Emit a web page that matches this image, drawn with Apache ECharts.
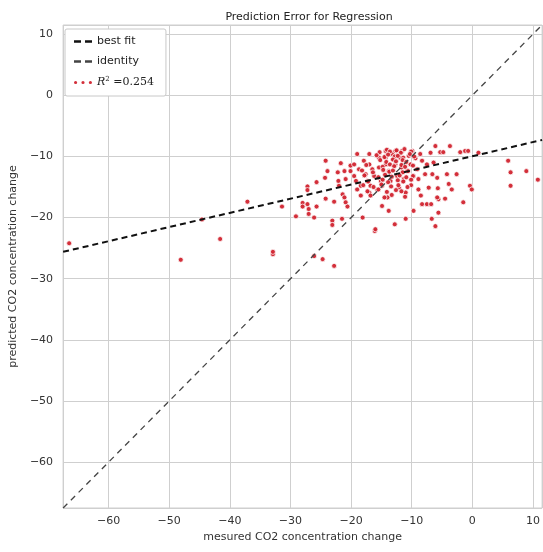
<!DOCTYPE html>
<html>
<head>
<meta charset="utf-8">
<script src="https://cdn.jsdelivr.net/npm/echarts@6/dist/echarts.min.js"></script>
<style>
  html, body { margin: 0; padding: 0; background: #fff; }
  #chart { width: 543px; height: 552px; }
</style>
</head>
<body>
<div id="chart"></div>
<script>
const measured = [
  -66.5, -48.1, -44.6, -41.6, -37.1, -32.9, -32.9, -26.1, -24.7, -22.8,
  -31.4, -29.1, -28.0, -28.0, -27.2, -27.0, -27.0, -26.1, -25.7, -27.2,
  -27.2, -25.7, -24.2, -23.9, -24.3, -24.2, -23.1, -23.1, -22.8, -22.2,
  -22.1, -22.0, -21.7, -21.5, -21.4, -21.1, -20.9, -20.6, -21.1, -20.9,
  -20.1, -20.1, -19.5, -19.5, -19.2, -19.0, -19.0, -18.7, -18.4, -18.4,
  -18.1, -17.9, -17.6, -17.3, -17.0, -17.0, -17.0, -16.8, -16.5, -16.2,
  -16.1, -16.0, -15.7, -15.4, -15.4, -15.1, -14.9, -14.9, -14.3, -14.3,
  -14.3, -14.0, -13.8, -13.8, -13.5, -13.2, -13.0, -12.8, -12.7, -12.7,
  -12.4, -12.1, -11.9, -11.7, -11.6, -11.3, -11.0, -11.0, -10.8, -10.5,
  -10.2, -10.1, -9.9, -9.7, -9.7, -9.4, -9.1, -8.9, -8.9, -8.6,
  -8.3, -8.3, -7.8, -7.5, -7.5, -7.2, -6.9, -6.8, -6.7, -6.6,
  -6.4, -6.1, -6.1, -5.8, -5.7, -5.6, -5.6, -5.3, -4.8, -4.5,
  -4.2, -3.9, -3.7, -3.4, -2.6, -2.0, -1.5, -1.2, -0.7, -0.4,
  -0.1, 1.0, 5.9, 6.3, 6.3, 8.9, 10.8,
  -15.3, -14.1, -13.6, -12.5, -11.8, -11.2, -10.1,
  -15.8, -14.5, -13.9, -12.8, -12.3, -11.4, -10.3, -9.6,
  -15.2, -14.2, -13.1, -12.6, -11.5, -10.9,
  -17.5, -14.8, -13.6, -12.9, -11.7, -11.1, -9.8,
  -18.2, -16.4, -14.7, -13.7, -13.1, -11.5, -10.6,
  -17.8, -15.5, -14.4, -13.3, -12.0, -10.9, -9.8,
  -17.2, -14.8, -13.9, -12.3, -11.4, -10.1,
  -18.0, -16.3, -15.0, -13.4, -12.2, -10.7,
  -17.3, -15.5, -14.1, -12.6, -11.7,
  -16.8, -14.5, -13.3, -11.1, -8.5, -5.8
];
const predicted = [
  -24.2, -26.9, -20.3, -23.5, -17.4, -26.0, -25.6, -26.3, -26.8, -27.9,
  -18.2, -19.8, -17.6, -18.2, -17.8, -18.6, -19.4, -20.0, -18.2, -14.9,
  -15.5, -14.2, -10.7, -12.4, -13.5, -16.9, -20.5, -21.2, -17.4, -12.6,
  -14.0, -14.8, -11.1, -20.2, -16.2, -16.7, -17.5, -18.2, -12.4, -13.7,
  -12.4, -11.5, -13.2, -11.3, -14.0, -9.6, -15.4, -12.1, -14.8, -16.4,
  -20.0, -10.7, -12.9, -14.0, -9.6, -11.3, -15.9, -14.8, -12.1, -13.2,
  -22.2, -21.9, -15.4, -10.2, -11.8, -14.0, -14.8, -18.1, -9.1, -10.2,
  -11.3, -16.7, -12.4, -18.9, -14.0, -9.6, -10.5, -21.1, -9.1, -11.3,
  -13.2, -15.1, -10.2, -11.8, -9.1, -13.7, -15.9, -20.2, -12.4, -9.9,
  -11.3, -14.7, -9.1, -13.2, -18.9, -10.3, -12.1, -13.7, -15.4, -9.6,
  -10.7, -17.8, -12.9, -11.3, -17.8, -15.1, -9.4, -17.8, -20.2, -12.9,
  -11.0, -8.3, -21.4, -13.5, -15.2, -19.2, -17.0, -9.3, -9.3, -16.9,
  -12.9, -14.5, -8.3, -15.4, -12.9, -9.3, -17.5, -9.1, -9.1, -14.8,
  -15.4, -9.4, -10.7, -12.6, -14.8, -12.4, -13.8,
  -9.3, -8.9, -9.2, -9.0, -9.4, -8.8, -9.2,
  -9.8, -10.1, -9.7, -10.0, -9.9, -10.2, -9.6, -10.0,
  -10.6, -10.9, -10.5, -10.8, -10.6, -10.9,
  -11.4, -11.7, -11.3, -11.6, -11.4, -11.7, -11.5,
  -12.3, -12.6, -12.2, -12.5, -12.3, -12.6, -12.4,
  -13.1, -13.4, -13.0, -13.3, -13.1, -13.4, -13.2,
  -14.1, -13.8, -14.2, -13.9, -14.1, -13.8,
  -14.7, -15.0, -14.6, -14.9, -14.7, -15.0,
  -15.7, -15.4, -15.8, -15.5, -15.7,
  -16.4, -16.7, -16.3, -16.6, -16.4, -16.7
];

// axis limits and the two reference lines
const axisRange = [-67.5, 11.5];
const fitX = [-67.5, 11.5];
const fitY = [-25.6, -7.3];
const identityXY = [-67.5, 11.5];
const r2Label = '0.254';

const points = measured.map((x, i) => [x, predicted[i]]);
const fitLine = fitX.map((x, i) => [x, fitY[i]]);
const identityLine = identityXY.map((v) => [v, v]);

const minusFmt = (v) => String(v).replace('-', '\u2212');
const textCol = '#333';
const gridCol = '#cfcfcf';
const dotCol = '#d1242f';

// legend icons: two short dashes, three dots
const dashIcon = 'path://M0,4h7v2.4h-7z M11,4h7v2.4h-7z';
const dotsIcon = 'path://M0,5a1.6,1.6 0 1,0 3.2,0a1.6,1.6 0 1,0 -3.2,0z M7.4,5a1.6,1.6 0 1,0 3.2,0a1.6,1.6 0 1,0 -3.2,0z M14.8,5a1.6,1.6 0 1,0 3.2,0a1.6,1.6 0 1,0 -3.2,0z';

const mc = echarts.init(document.getElementById('chart'));
const option = {
  backgroundColor: '#fff',
  animation: false,
  title: {
    text: 'Prediction Error for Regression',
    left: 304,
    textAlign: 'center',
    top: 7,
    textStyle: { fontFamily: 'DejaVu Sans', fontSize: 11, fontWeight: 'normal', color: '#222' },
  },
  grid: {
    left: 63,
    top: 25,
    width: 482,
    height: 483,
    show: true,
    borderColor: gridCol,
    borderWidth: 1,
  },
  legend: {
    orient: 'vertical',
    left: 65,
    top: 29,
    padding: [7, 12, 8, 9],
    itemGap: 9,
    itemWidth: 18,
    itemHeight: 6,
    backgroundColor: '#fff',
    borderColor: '#c8c8c8',
    borderWidth: 1,
    borderRadius: 2,
    textStyle: {
      fontFamily: 'DejaVu Sans',
      fontSize: 11,
      color: '#222',
      rich: {
        it: { fontFamily: 'DejaVu Serif', fontStyle: 'italic', fontSize: 11, color: '#222' },
        sup: { fontFamily: 'DejaVu Serif', fontSize: 7, color: '#222', verticalAlign: 'top', padding: [0, 0, 6, 0] },
        n: { fontFamily: 'DejaVu Serif', fontSize: 11, color: '#222' },
      },
    },
    formatter: (name) => name === 'R2' ? '{it|R}{sup|2} {n|=' + r2Label + '}' : name,
    data: [
      { name: 'best fit', icon: dashIcon, itemStyle: { color: '#111', borderWidth: 0 } },
      { name: 'identity', icon: dashIcon, itemStyle: { color: '#444', borderWidth: 0 } },
      { name: 'R2', icon: dotsIcon, itemStyle: { color: dotCol, borderWidth: 0 } },
    ],
  },
  xAxis: {
    type: 'value',
    min: axisRange[0],
    max: axisRange[1],
    splitNumber: 8,
    name: 'mesured CO2 concentration change',
    nameLocation: 'middle',
    nameGap: 22,
    nameTextStyle: { fontFamily: 'DejaVu Sans', fontSize: 11, color: textCol },
    axisLine: { show: false },
    axisTick: { show: false },
    axisLabel: {
      showMinLabel: false,
      showMaxLabel: false,
      margin: 8,
      fontFamily: 'DejaVu Sans',
      fontSize: 11,
      color: textCol,
      formatter: minusFmt,
    },
    splitLine: { show: true, lineStyle: { color: gridCol, width: 1 } },
  },
  yAxis: {
    type: 'value',
    min: axisRange[0],
    max: axisRange[1],
    splitNumber: 8,
    name: 'predicted CO2 concentration change',
    nameLocation: 'middle',
    nameGap: 39,
    nameTextStyle: { fontFamily: 'DejaVu Sans', fontSize: 11, color: textCol },
    axisLine: { show: false },
    axisTick: { show: false },
    axisLabel: {
      showMinLabel: false,
      showMaxLabel: false,
      margin: 10,
      fontFamily: 'DejaVu Sans',
      fontSize: 11,
      color: textCol,
      formatter: minusFmt,
    },
    splitLine: { show: true, lineStyle: { color: gridCol, width: 1 } },
  },
  series: [
    {
      name: 'R2',
      type: 'scatter',
      data: points,
      symbolSize: 5,
      itemStyle: { color: dotCol, borderColor: '#fff', borderWidth: 0.8, opacity: 0.95 },
      z: 2,
    },
    {
      name: 'best fit',
      type: 'line',
      data: fitLine,
      showSymbol: false,
      symbol: 'none',
      lineStyle: { color: '#111', width: 2, type: [6, 4] },
      itemStyle: { color: '#111' },
      z: 3,
    },
    {
      name: 'identity',
      type: 'line',
      data: identityLine,
      showSymbol: false,
      symbol: 'none',
      lineStyle: { color: '#444', width: 1.3, type: [6, 5] },
      itemStyle: { color: '#444' },
      z: 3,
    },
  ],
};
mc.setOption(option);
</script>
</body>
</html>
